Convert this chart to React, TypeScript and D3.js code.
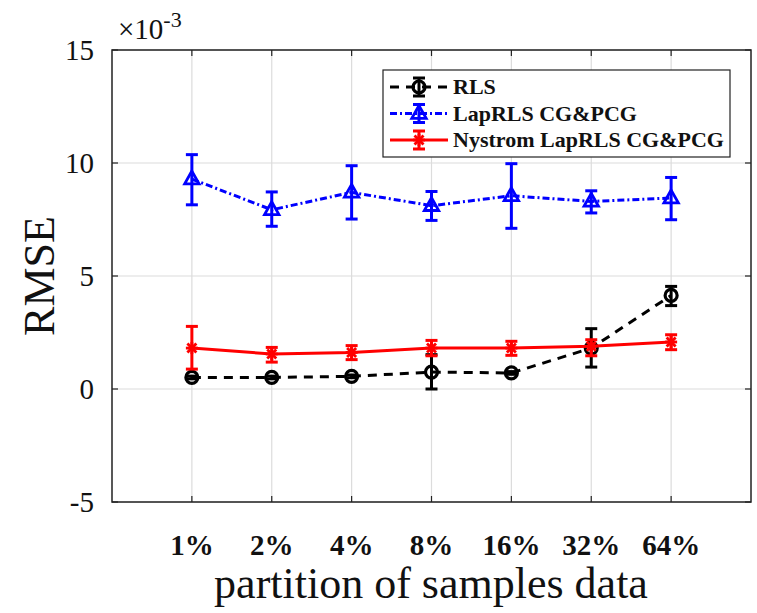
import React from "react";
import * as d3 from "d3";

const categories = ["1%", "2%", "4%", "8%", "16%", "32%", "64%"];
const yTicks = [-5, 0, 5, 10, 15];

const rlsMean = [0.51, 0.51, 0.56, 0.75, 0.71, 1.81, 4.14];
const rlsLow = [0.45, 0.45, 0.5, 0.0, 0.65, 0.97, 3.69];
const rlsHigh = [0.57, 0.57, 0.62, 1.52, 0.77, 2.67, 4.54];

const lapMean = [9.29, 7.93, 8.7, 8.11, 8.55, 8.3, 8.45];
const lapLow = [8.15, 7.2, 7.52, 7.46, 7.11, 7.79, 7.49];
const lapHigh = [10.37, 8.72, 9.88, 8.74, 9.97, 8.77, 9.36];

const nysMean = [1.81, 1.55, 1.62, 1.81, 1.81, 1.89, 2.08];
const nysLow = [0.88, 1.19, 1.3, 1.47, 1.49, 1.47, 1.74];
const nysHigh = [2.77, 1.84, 1.92, 2.15, 2.11, 2.18, 2.4];

const seriesNames = ["RLS", "LapRLS CG&PCG", "Nystrom LapRLS CG&PCG"];

const W = 757, H = 613;
const L = 112, R = 751, T = 50, B = 502;
const FONT = "Liberation Serif";

type Marker = "circle" | "triangle" | "star";

function MarkerShape({ type, x, y, color }: { type: Marker; x: number; y: number; color: string }) {
  if (type === "circle") {
    return <circle cx={x} cy={y} r={6} fill="none" stroke={color} strokeWidth={3.2} />;
  }
  if (type === "triangle") {
    const s = 8;
    const p = `${x},${y - s} ${x - s * 0.9},${y + s * 0.6} ${x + s * 0.9},${y + s * 0.6}`;
    return <polygon points={p} fill="none" stroke={color} strokeWidth={2.8} />;
  }
  const s = 6;
  return (
    <g stroke={color} strokeWidth={2.8}>
      <line x1={x - s} y1={y} x2={x + s} y2={y} />
      <line x1={x} y1={y - s} x2={x} y2={y + s} />
      <line x1={x - s * 0.75} y1={y - s * 0.75} x2={x + s * 0.75} y2={y + s * 0.75} />
      <line x1={x - s * 0.75} y1={y + s * 0.75} x2={x + s * 0.75} y2={y - s * 0.75} />
    </g>
  );
}

export default function App() {
  const x = d3.scaleLinear().domain([0, 8]).range([L, R]);
  const y = d3.scaleLinear().domain([-5, 15]).range([B, T]);

  const series = [
    { name: seriesNames[0], mean: rlsMean, low: rlsLow, high: rlsHigh, color: "#000000", dash: "9,7", marker: "circle" as Marker },
    { name: seriesNames[1], mean: lapMean, low: lapLow, high: lapHigh, color: "#0000ff", dash: "7,3,2,3", marker: "triangle" as Marker },
    { name: seriesNames[2], mean: nysMean, low: nysLow, high: nysHigh, color: "#ff0000", dash: "", marker: "star" as Marker },
  ];

  const line = d3.line<number>().x((_, i) => x(i + 1)).y((d) => y(d));
  const cap = 6;

  const legX = 383, legY = 70, legW = 347, legH = 87;

  return (
    <svg width={W} height={H} style={{ position: "absolute", left: 0, top: 0, background: "#fff" }}>
      <rect x={0} y={0} width={W} height={H} fill="#fff" />
      {categories.map((_, i) => (
        <line key={"gx" + i} x1={x(i + 1)} x2={x(i + 1)} y1={T} y2={B} stroke="#dcdcdc" strokeWidth={1.2} />
      ))}
      {yTicks.map((t) => (
        <line key={"gy" + t} x1={L} x2={R} y1={y(t)} y2={y(t)} stroke="#dcdcdc" strokeWidth={1.2} />
      ))}
      {categories.map((_, i) => (
        <g key={"tx" + i}>
          <line x1={x(i + 1)} x2={x(i + 1)} y1={B} y2={B - 6} stroke="#222" strokeWidth={1.2} />
          <line x1={x(i + 1)} x2={x(i + 1)} y1={T} y2={T + 6} stroke="#222" strokeWidth={1.2} />
        </g>
      ))}
      {yTicks.map((t) => (
        <g key={"ty" + t}>
          <line x1={L} x2={L + 6} y1={y(t)} y2={y(t)} stroke="#222" strokeWidth={1.2} />
          <line x1={R} x2={R - 6} y1={y(t)} y2={y(t)} stroke="#222" strokeWidth={1.2} />
        </g>
      ))}
      {series.map((s) => (
        <g key={s.name}>
          <path d={line(s.mean) || ""} fill="none" stroke={s.color} strokeWidth={3} strokeDasharray={s.dash || undefined} />
          {s.mean.map((m, i) => {
            const cx = x(i + 1);
            return (
              <g key={i} stroke={s.color} strokeWidth={3}>
                <line x1={cx} x2={cx} y1={y(s.low[i])} y2={y(s.high[i])} />
                <line x1={cx - cap} x2={cx + cap} y1={y(s.low[i])} y2={y(s.low[i])} />
                <line x1={cx - cap} x2={cx + cap} y1={y(s.high[i])} y2={y(s.high[i])} />
              </g>
            );
          })}
          {s.mean.map((m, i) => (
            <MarkerShape key={"m" + i} type={s.marker} x={x(i + 1)} y={y(m)} color={s.color} />
          ))}
        </g>
      ))}
      <rect x={L} y={T} width={R - L} height={B - T} fill="none" stroke="#222" strokeWidth={1.5} />
      {categories.map((c, i) => (
        <text key={"lx" + c} x={x(i + 1)} y={555} textAnchor="middle" fontFamily={FONT} fontSize={29} fontWeight="bold" fill="#111">
          {c}
        </text>
      ))}
      {yTicks.map((t) => (
        <text key={"ly" + t} x={94} y={y(t) + 10} textAnchor="end" fontFamily={FONT} fontSize={29} fill="#111">
          {t}
        </text>
      ))}
      <text x={118} y={39} fontFamily={FONT} fontSize={29} fill="#111">
        ×10<tspan dy={-12} fontSize={22}>-3</tspan>
      </text>
      <text x={431} y={598} textAnchor="middle" fontFamily={FONT} fontSize={44} fill="#111">
        partition of samples data
      </text>
      <text transform={`translate(54,${(T + B) / 2}) rotate(-90)`} textAnchor="middle" fontFamily={FONT} fontSize={44} fill="#111">
        RMSE
      </text>
      <rect x={legX} y={legY} width={legW} height={legH} fill="#fff" stroke="#222" strokeWidth={1.2} />
      {series.map((s, i) => {
        const ly = legY + 17 + i * 26.5;
        const x1 = 390, x2 = 448, mx = 419;
        return (
          <g key={"leg" + i}>
            <line x1={x1} x2={x2} y1={ly} y2={ly} stroke={s.color} strokeWidth={3} strokeDasharray={s.dash || undefined} />
            <g stroke={s.color} strokeWidth={3}>
              <line x1={mx} x2={mx} y1={ly - 9} y2={ly + 9} />
              <line x1={mx - cap} x2={mx + cap} y1={ly - 9} y2={ly - 9} />
              <line x1={mx - cap} x2={mx + cap} y1={ly + 9} y2={ly + 9} />
            </g>
            <MarkerShape type={s.marker} x={mx} y={ly} color={s.color} />
            <text x={453} y={ly + 7} fontFamily={FONT} fontSize={22} fontWeight="bold" fill="#111">
              {s.name}
            </text>
          </g>
        );
      })}
    </svg>
  );
}
